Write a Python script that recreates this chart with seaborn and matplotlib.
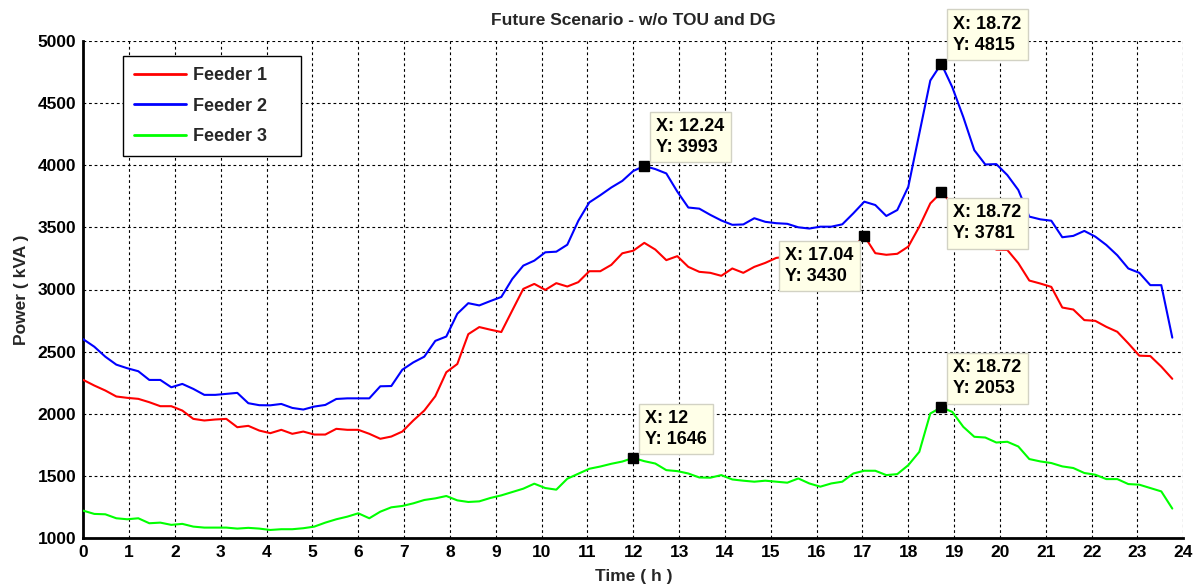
import numpy as np
import pandas as pd
import matplotlib
matplotlib.use("Agg")
import matplotlib.pyplot as plt
import seaborn as sns

# Sampling grid: 100 samples, one every 0.24 h
time_h = np.round(np.arange(100) * 0.24, 2)

feeder1 = [2273, 2228, 2188, 2140, 2129, 2121, 2094, 2062, 2062, 2027, 1960, 1947, 1955, 1960, 1893, 1904, 1866,
           1845, 1872, 1840, 1858, 1834, 1834, 1880, 1872, 1872, 1840, 1800, 1818, 1858, 1947, 2027, 2142, 2335,
           2401, 2641, 2698, 2677, 2658, 2832, 3005, 3045, 2997, 3051, 3024, 3059, 3147, 3147, 3198, 3291, 3312,
           3375, 3321, 3236, 3268, 3182, 3142, 3134, 3110, 3169, 3134, 3182, 3214, 3254,
           3265, 3275, 3285, 3295, 3305, 3320, 3340,
           3430,
           3292, 3279, 3287, 3345, 3505, 3692,
           3781,
           3690, 3590, 3490, 3400, 3320,
           3318, 3212, 3072, 3048, 3021, 2855, 2839, 2754, 2748, 2700, 2660, 2567, 2468, 2465, 2380, 2282]

feeder2 = [2600, 2540, 2460, 2396, 2367, 2343, 2273, 2273, 2214, 2241, 2201, 2153, 2153, 2161, 2169, 2086, 2070,
           2069, 2080, 2048, 2035, 2059, 2072, 2120, 2125, 2125, 2125, 2222, 2224, 2355, 2414, 2460, 2587, 2622,
           2805, 2890, 2872, 2907, 2940, 3085, 3192, 3232, 3299, 3304, 3360, 3552, 3700, 3758, 3820, 3873, 3953,
           3993,
           3968, 3933, 3787, 3659, 3650, 3600, 3555, 3520, 3523, 3573, 3544, 3533, 3528, 3500, 3490,
           3505, 3505, 3524, 3612, 3706, 3679, 3591, 3639, 3826, 4253, 4680,
           4815,
           4626, 4386, 4120, 4005,
           4008, 3920, 3800, 3586, 3564, 3553, 3420, 3431, 3471, 3425, 3358, 3275, 3169, 3134, 3035, 3035, 2613]

feeder3 = [1222, 1196, 1193, 1161, 1153, 1161, 1121, 1126, 1108, 1116, 1094, 1086, 1086, 1086, 1078, 1084, 1078,
           1067, 1073, 1073, 1081, 1094, 1126, 1153, 1174, 1201, 1161, 1214, 1249, 1260, 1281, 1308, 1321, 1340,
           1305, 1292, 1297, 1324, 1345, 1372, 1399, 1439, 1404, 1391, 1479, 1519, 1559, 1577, 1599, 1617,
           1646,
           1620, 1601, 1548, 1540, 1521, 1489, 1487, 1508, 1473, 1463, 1455, 1463, 1455, 1447, 1481, 1441,
           1415, 1441, 1455, 1521, 1543, 1543, 1508, 1516, 1588, 1695, 2003,
           2053,
           2016, 1896, 1816, 1810,
           1770, 1776, 1738, 1637, 1618, 1605, 1578, 1565, 1525, 1511, 1476, 1476, 1436, 1431, 1404, 1377, 1239]

series_names = ["Feeder 1", "Feeder 2", "Feeder 3"]
series_colors = ["#FF0000", "#0000FF", "#00FF00"]

x_ticks = list(range(0, 25))
y_ticks = list(range(1000, 5001, 500))

# Data tips (x, y) and where each label box sits relative to its point
tip_x = [12.24, 18.72, 17.04, 18.72, 12, 18.72]
tip_y = [3993, 4815, 3430, 3781, 1646, 2053]
tip_side = ["ur", "ur", "ll", "lr", "ur", "ur"]

df = pd.DataFrame({
    "Time": np.tile(time_h, 3),
    "Power": feeder1 + feeder2 + feeder3,
    "Feeder": np.repeat(series_names, len(time_h)),
})

sns.set_style("white")
plt.rcParams["font.family"] = ["Liberation Sans", "DejaVu Sans"]
plt.rcParams["font.weight"] = "bold"

W, H = 1199, 586
fig = plt.figure(figsize=(W / 100, H / 100), dpi=100)
ax = fig.add_axes([83.3 / W, 1 - 538.3 / H, 1100 / W, 497.6 / H])

sns.lineplot(data=df, x="Time", y="Power", hue="Feeder",
             palette=dict(zip(series_names, series_colors)),
             linewidth=1.5, ax=ax, zorder=3)

ax.set_xlim(0, 24)
ax.set_ylim(1000, 5000)
ax.set_xticks(x_ticks)
ax.set_yticks(y_ticks)
ax.grid(True, color="black", linestyle=(0, (2.5, 2.5)), linewidth=0.8)
ax.set_axisbelow(True)

for side in ("top", "right"):
    ax.spines[side].set_visible(False)
for side in ("left", "bottom"):
    ax.spines[side].set_color("black")
    ax.spines[side].set_linewidth(2)

ax.tick_params(direction="in", length=5, width=1.5, labelsize=12.5, pad=5, colors="black")

ax.set_title("Future Scenario - w/o TOU and DG", fontsize=12.5, fontweight="bold", pad=11)
ax.set_xlabel("Time ( h )", fontsize=12.5, fontweight="bold", labelpad=6)
ax.set_ylabel("Power ( kVA )", fontsize=12.5, fontweight="bold", labelpad=6)

handles, labels = ax.get_legend_handles_labels()
leg = ax.legend(handles, labels, loc="upper left",
                bbox_to_anchor=(0.036, 0.765, 0.162, 0.204), mode="expand",
                frameon=True, fancybox=False, edgecolor="black", facecolor="white",
                framealpha=1, fontsize=13, handlelength=2.9, handletextpad=0.4,
                labelspacing=0.75, borderpad=0.6, borderaxespad=0)
leg.get_frame().set_linewidth(1.0)
for line in leg.get_lines():
    line.set_linewidth(2)

pad_px = 6
offsets = {"ur": ((6 + pad_px, 4 + pad_px), "left", "bottom"),
           "lr": ((6 + pad_px, -6 - pad_px), "left", "top"),
           "ll": ((-5 - pad_px, -5 - pad_px), "right", "top")}
for x, y, side in zip(tip_x, tip_y, tip_side):
    ax.plot([x], [y], marker="s", markersize=7, color="black", zorder=6, clip_on=False)
    (dx, dy), ha, va = offsets[side]
    ax.annotate(f"X: {x:g}\nY: {y:d}", xy=(x, y), xytext=(dx, dy),
                textcoords="offset pixels", ha=ha, va=va, multialignment="left",
                fontsize=13, fontweight="bold", color="black", linespacing=1.3,
                annotation_clip=False, zorder=7,
                bbox=dict(boxstyle="square,pad=0.35", fc="#FFFFE8", ec="#D2D2C4", lw=1))

fig.savefig("out.png", dpi=100)
